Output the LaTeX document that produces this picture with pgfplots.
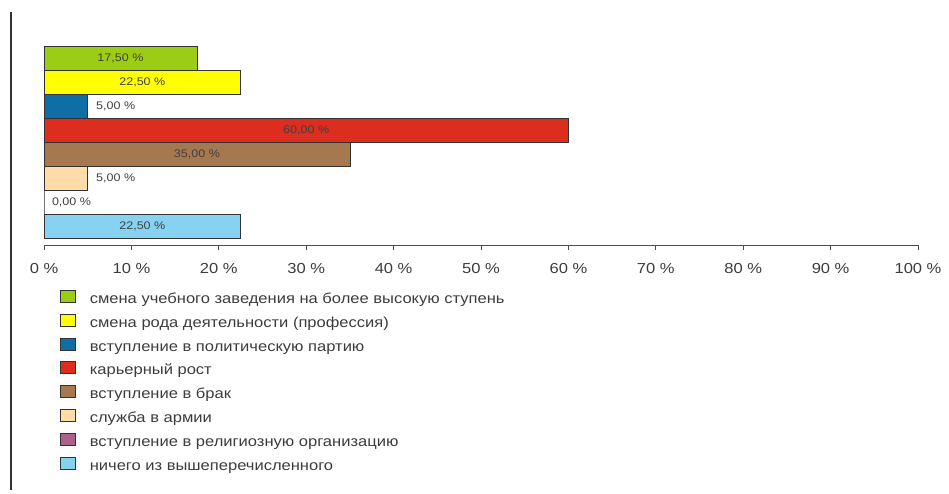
\documentclass[border=0pt]{standalone}
\usepackage{fontspec}
\setmainfont{Liberation Sans}[FakeStretch=1.14]
\usepackage{pgfplots}
\pgfplotsset{compat=1.18}
\definecolor{c1}{RGB}{155,205,20}
\definecolor{c2}{RGB}{255,255,0}
\definecolor{c3}{RGB}{15,110,165}
\definecolor{c4}{RGB}{220,45,30}
\definecolor{c5}{RGB}{165,120,80}
\definecolor{c6}{RGB}{255,220,170}
\definecolor{c7}{RGB}{170,100,140}
\definecolor{c8}{RGB}{135,210,240}
\definecolor{bord}{RGB}{50,50,50}
\definecolor{txt}{RGB}{60,60,60}
\begin{document}
\begin{tikzpicture}
\path[use as bounding box] (0pt,0pt) rectangle (949pt,-493pt);
\draw[line width=1.3pt, black!80] (11pt,-12pt) -- (11pt,-490pt);
\begin{axis}[
  at={(44pt,-245pt)}, anchor=south west,
  scale only axis, width=874pt, height=201.4pt,
  xmin=0, xmax=100,
  ymin=-0.6, ymax=7.79, y dir=reverse,
  axis x line*=bottom, axis y line=none,
  axis line style={draw=black!70, line width=0.8pt},
  xtick={0,10,...,100},
  xticklabels={0 \%,10 \%,20 \%,30 \%,40 \%,50 \%,60 \%,70 \%,80 \%,90 \%,100 \%},
  xtick align=outside, major tick length=5pt,
  tick style={draw=black!70, line width=0.8pt},
  xticklabel style={font=\fontsize{14.5}{16}\selectfont, text=txt, yshift=-10pt},
  bar width=24pt, bar shift=0pt,
  legend style={at={(axis description cs:0.0183,-0.2234)}, anchor=north west,
    draw=none, fill=none, inner sep=0pt, outer sep=0pt,
    font=\fontsize{14.5}{17}\selectfont, text=txt,
    nodes={inner sep=0pt, text height=11pt, text depth=3pt},
    row sep=7.4pt},
  legend cell align=left,
  legend image code/.code={\draw[#1,draw=bord, line width=0.8pt] (0pt,-3pt) rectangle (15pt,9pt); \path (29pt,0pt);},
]
\addplot[xbar, fill=c1, draw=bord, line width=0.8pt] coordinates {(17.5,0)};
\addlegendentry{смена учебного заведения на более высокую ступень}
\addplot[xbar, fill=c2, draw=bord, line width=0.8pt] coordinates {(22.5,1)};
\addlegendentry{смена рода деятельности (профессия)}
\addplot[xbar, fill=c3, draw=bord, line width=0.8pt] coordinates {(5,2)};
\addlegendentry{вступление в политическую партию}
\addplot[xbar, fill=c4, draw=bord, line width=0.8pt] coordinates {(60,3)};
\addlegendentry{карьерный рост}
\addplot[xbar, fill=c5, draw=bord, line width=0.8pt] coordinates {(35,4)};
\addlegendentry{вступление в брак}
\addplot[xbar, fill=c6, draw=bord, line width=0.8pt] coordinates {(5,5)};
\addlegendentry{служба в армии}
\addplot[xbar, fill=c7, draw=bord, line width=0.8pt] coordinates {(0,6)};
\addlegendentry{вступление в религиозную организацию}
\addplot[xbar, fill=c8, draw=bord, line width=0.8pt] coordinates {(22.5,7)};
\addlegendentry{ничего из вышеперечисленного}
% value labels
\addplot[forget plot, only marks, mark=none,
  point meta=explicit,
  nodes near coords={\pgfmathprintnumber[fixed,fixed zerofill,precision=2,use comma,assume math mode=true]{\pgfplotspointmeta}\ \%},
  every node near coord/.style={anchor=center, font=\fontsize{11}{12}\selectfont, text=black!75}]
  coordinates {(8.75,0) [17.5] (11.25,1) [22.5] (8.2,2) [5] (30,3) [60]
               (17.5,4) [35] (8.2,5) [5] (3.15,6) [0] (11.25,7) [22.5]};
\end{axis}
\end{tikzpicture}
\end{document}
